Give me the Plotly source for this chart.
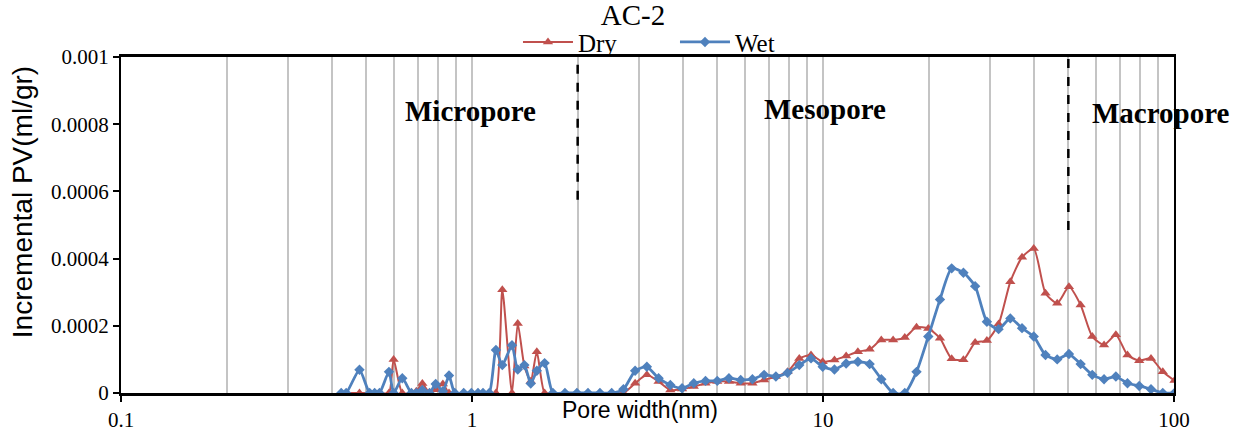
import math
import plotly.graph_objects as go

# ---- data -------------------------------------------------------------
pore_width_nm = [
    0.424, 0.438, 0.478, 0.511, 0.528, 0.545, 0.580, 0.598, 0.633, 0.672,
    0.694, 0.722, 0.757, 0.788, 0.826, 0.860, 0.893, 0.947, 0.996, 1.04,
    1.075, 1.12, 1.17, 1.22, 1.30, 1.35, 1.41, 1.47, 1.53, 1.61,
    1.70, 1.84, 1.99, 2.14,
    2.315, 2.50, 2.70, 2.916, 3.149, 3.401, 3.673, 3.967, 4.284, 4.627,
    4.997, 5.395, 5.828, 6.294, 6.797, 7.341, 7.925, 8.559, 9.244, 9.98,
    10.78, 11.64, 12.57, 13.58, 14.66, 15.84, 17.10, 18.47, 19.95, 21.54,
    23.26, 25.12, 27.13, 29.30, 31.64, 34.17, 36.90, 39.85, 43.04, 46.48,
    50.2, 54.2, 58.5, 63.2, 68.3, 73.7, 79.6, 86.0, 92.9, 100.3,
]

dry_pv = [
    0, 0, 0, 0, 0, 0, 0, 0.000100, 0, 0,
    0.000005, 0.000028, 0, 0.000010, 0.000027, 0, 0, 0, 0, 0,
    0, 0, 0, 0.000307, 0, 0.000207, 0.000080, 0.000035, 0.000123, 0,
    0, 0, 0, 0,
    0, 0, 0, 0.000029, 0.000054, 0.000034, 0.000009, 0.000012, 0.000019, 0.000029,
    0.000034, 0.000034, 0.000029, 0.000029, 0.000039, 0.000049, 0.000063, 0.000103, 0.000113, 0.000093,
    0.000098, 0.000110, 0.000123, 0.000130, 0.000158, 0.000158, 0.000165, 0.000196, 0.000192, 0.000163,
    0.000102, 0.000099, 0.000150, 0.000156, 0.000205, 0.000331, 0.000404, 0.000430, 0.000297, 0.000267,
    0.000316, 0.000262, 0.000168, 0.000143, 0.000173, 0.000113, 0.000096, 0.000103, 0.000063, 0.000037,
]

wet_pv = [
    0, 0, 0.000069, 0, 0, 0, 0.000063, 0, 0.000044, 0,
    0, 0.000009, 0, 0.000027, 0.000005, 0.000052, 0, 0, 0, 0,
    0, 0, 0.000128, 0.000083, 0.000142, 0.000070, 0.000083, 0.000028, 0.000066, 0.000089,
    0, 0, 0, 0,
    0, 0, 0.000011, 0.000066, 0.000078, 0.000044, 0.000024, 0.000014, 0.000029, 0.000036,
    0.000036, 0.000044, 0.000039, 0.000041, 0.000054, 0.000049, 0.000060, 0.000083, 0.000103, 0.000078,
    0.000070, 0.000088, 0.000093, 0.000086, 0.000041, 0, 0, 0.000063, 0.000168, 0.000278,
    0.000371, 0.000358, 0.000318, 0.000212, 0.000190, 0.000222, 0.000193, 0.000168, 0.000113, 0.000100,
    0.000116, 0.000086, 0.000054, 0.000041, 0.000049, 0.000029, 0.000021, 0.000011, 0, 0,
]

x_tick_vals = [0.1, 1, 10, 100]
x_tick_text = ["0.1", "1", "10", "100"]
y_tick_vals = [0, 0.0002, 0.0004, 0.0006, 0.0008, 0.001]
y_tick_text = ["0", "0.0002", "0.0004", "0.0006", "0.0008", "0.001"]

# pore class boundaries (nm) and the height where the dashed markers start
micro_meso_boundary = 2
meso_macro_boundary = 50
micro_dash_bottom = 0.000575
macro_dash_bottom = 0.000485

region_labels = ["Micropore", "Mesopore", "Macropore"]
region_label_x = [0.99, 10.1, 57.5]
region_label_y = [0.000838, 0.000844, 0.000832]
region_label_anchor = ["center", "center", "left"]

minor_grid = [m * d for d in (0.1, 1, 10) for m in range(2, 10)]

RED = "#C0504D"
BLUE = "#4F81BD"
SERIF = "Liberation Serif, Times New Roman, serif"
SANS = "Liberation Sans, Arial, sans-serif"

fig = go.Figure()

fig.add_trace(go.Scatter(
    x=pore_width_nm, y=dry_pv, name="Dry", mode="lines+markers",
    line=dict(color=RED, width=2, shape="spline", smoothing=0.6),
    marker=dict(symbol="triangle-up", size=9, color=RED),
    cliponaxis=True,
))
fig.add_trace(go.Scatter(
    x=pore_width_nm, y=wet_pv, name="Wet", mode="lines+markers",
    line=dict(color=BLUE, width=2.8, shape="spline", smoothing=0.6),
    marker=dict(symbol="diamond", size=8, color=BLUE),
    cliponaxis=True,
))

for bx, yb in ((micro_meso_boundary, micro_dash_bottom), (meso_macro_boundary, macro_dash_bottom)):
    fig.add_trace(go.Scatter(
        x=[bx, bx], y=[yb, 0.001], mode="lines", showlegend=False, hoverinfo="skip",
        line=dict(color="black", width=2.5, dash="dash"),
    ))

for txt, lx, ly, anc in zip(region_labels, region_label_x, region_label_y, region_label_anchor):
    fig.add_annotation(
        x=math.log10(lx), y=ly, xref="x", yref="y", text=f"<b>{txt}</b>",
        showarrow=False, xanchor=anc, yanchor="middle",
        font=dict(family=SERIF, size=29, color="black"),
    )

fig.add_annotation(
    x=0.493, y=-0.05, xref="paper", yref="paper", text="Pore width(nm)",
    showarrow=False, xanchor="center", yanchor="middle",
    font=dict(family=SANS, size=23, color="black"),
)
fig.add_annotation(
    x=-0.094, y=0.568, xref="paper", yref="paper", text="Incremental PV(ml/gr)",
    showarrow=False, xanchor="center", yanchor="middle", textangle=-90,
    font=dict(family=SANS, size=28, color="black"),
)

fig.update_layout(
    width=1244, height=432,
    margin=dict(l=121, r=70, t=57, b=39, autoexpand=False),
    paper_bgcolor="white", plot_bgcolor="white",
    title=dict(text="AC-2", x=633 / 1244, xref="container", xanchor="center",
               y=1 - 15 / 432, yref="container", yanchor="middle",
               font=dict(family=SERIF, size=29, color="black")),
    legend=dict(orientation="h", x=0.377, xanchor="left", y=1.044, yanchor="middle",
                font=dict(family=SERIF, size=25, color="black"),
                bgcolor="rgba(0,0,0,0)", itemwidth=50, entrywidth=92,
                entrywidthmode="pixels", tracegroupgap=0),
    showlegend=True,
    xaxis=dict(
        type="log", range=[-1, 2], automargin=False,
        tickvals=x_tick_vals, ticktext=x_tick_text,
        ticks="outside", ticklen=6, tickwidth=1.5, tickcolor="black",
        showline=True, linecolor="black", linewidth=2.5, mirror=True,
        showgrid=True, gridcolor="#C4C4C4", gridwidth=1.5,
        minor=dict(tickmode="array", tickvals=minor_grid, showgrid=True,
                   gridcolor="#C4C4C4", gridwidth=1.5, ticks=""),
        tickfont=dict(family=SERIF, size=21, color="black"),
        zeroline=False,
    ),
    yaxis=dict(
        range=[0, 0.001], automargin=False,
        tickvals=y_tick_vals, ticktext=y_tick_text,
        ticks="outside", ticklen=6, tickwidth=1.5, tickcolor="black",
        showline=True, linecolor="black", linewidth=2, mirror=True,
        showgrid=False, zeroline=False,
        tickfont=dict(family=SERIF, size=21, color="black"),
    ),
)

fig.write_html("out.html")
